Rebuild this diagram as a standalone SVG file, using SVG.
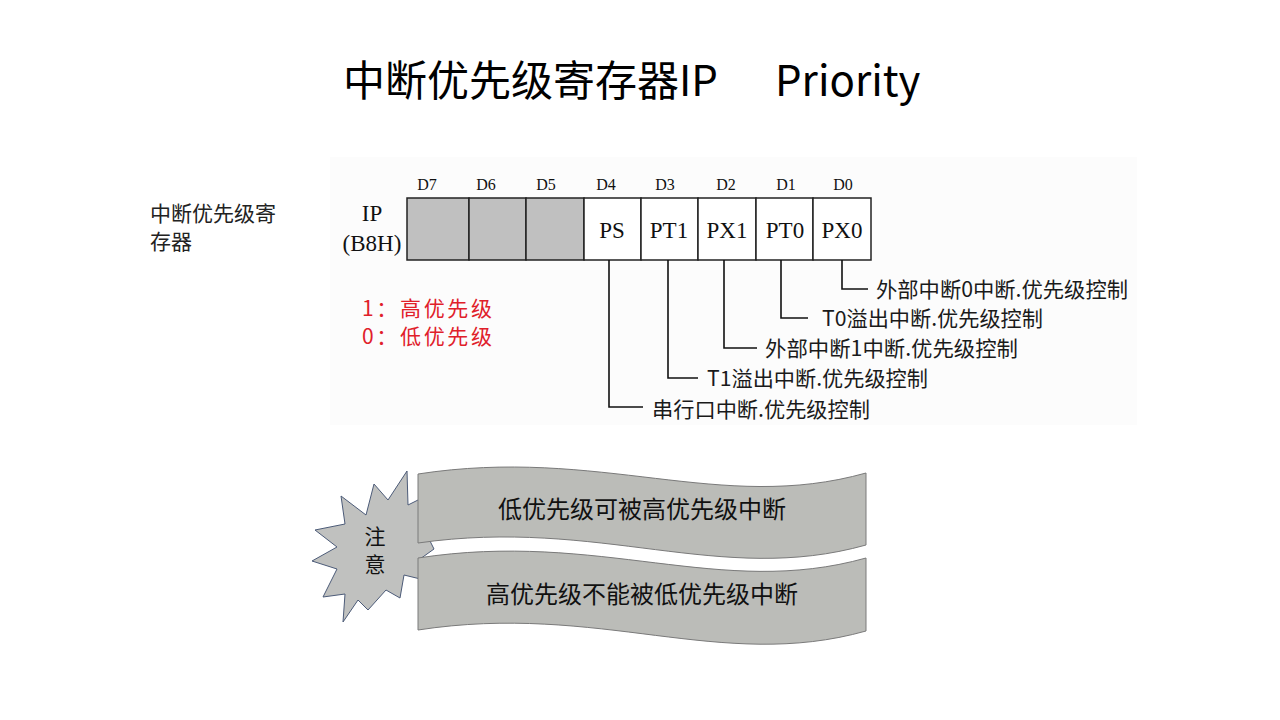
<svg xmlns="http://www.w3.org/2000/svg" width="1280" height="720" viewBox="0 0 1280 720">
<style>
.cjk{font-family:"Noto Sans CJK SC","Noto Sans",sans-serif;}
.ser{font-family:"Liberation Serif","Noto Sans CJK SC",serif;fill:#111;}
.cell{stroke:#222;stroke-width:1.5;}
.gray{fill:#c0c0c0;}
.white{fill:#fff;}
.lead{fill:none;stroke:#111;stroke-width:1.6;}
.lbl{font-family:"Noto Sans CJK SC","Liberation Serif",sans-serif;font-size:21px;fill:#1a1a1a;}
.rib{fill:#bbbcb8;stroke:#7a7a7a;stroke-width:1;}
.red{fill:#e0202a;}
</style>
<rect width="1280" height="720" fill="#fff"/>

<g id="title">
<text class="cjk" x="343" y="96" font-size="42" fill="#000">中断优先级寄存器IP<tspan x="775">Priority</tspan></text>
</g>

<g id="side-label">
<text class="cjk" x="150" y="221" font-size="21" fill="#222">中断优先级寄</text>
<text class="cjk" x="150" y="249" font-size="21" fill="#222">存器</text>
</g>

<rect x="330" y="157" width="807" height="268" fill="#fcfcfc"/>

<g id="register">
<text class="ser" x="372" y="221" font-size="23" text-anchor="middle">IP</text>
<text class="ser" x="372" y="251" font-size="23" text-anchor="middle">(B8H)</text>
<g font-size="16" text-anchor="middle" class="ser">
<text class="ser" x="427" y="190">D7</text>
<text class="ser" x="486" y="190">D6</text>
<text class="ser" x="546" y="190">D5</text>
<text class="ser" x="606" y="190">D4</text>
<text class="ser" x="665" y="190">D3</text>
<text class="ser" x="726" y="190">D2</text>
<text class="ser" x="786" y="190">D1</text>
<text class="ser" x="843" y="190">D0</text>
</g>
<rect class="cell gray" x="407" y="198" width="62" height="62"/>
<rect class="cell gray" x="469" y="198" width="57" height="62"/>
<rect class="cell gray" x="526" y="198" width="58" height="62"/>
<rect class="cell white" x="584" y="198" width="57" height="62"/>
<rect class="cell white" x="641" y="198" width="57" height="62"/>
<rect class="cell white" x="698" y="198" width="58" height="62"/>
<rect class="cell white" x="756" y="198" width="57" height="62"/>
<rect class="cell white" x="813" y="198" width="58" height="62"/>
<g font-size="23" text-anchor="middle">
<text class="ser" x="612" y="238">PS</text>
<text class="ser" x="669" y="238">PT1</text>
<text class="ser" x="727" y="238">PX1</text>
<text class="ser" x="785" y="238">PT0</text>
<text class="ser" x="842" y="238">PX0</text>
</g>
</g>

<g id="connectors">
<polyline class="lead" points="609,260 609,407 643,407"/>
<polyline class="lead" points="668,260 668,378 698,378"/>
<polyline class="lead" points="724,260 724,348 757,348"/>
<polyline class="lead" points="781,260 781,318 808,318"/>
<polyline class="lead" points="842,260 842,289 868,289"/>
</g>

<g id="bit-labels">
<text class="lbl" x="876" y="297" textLength="252" lengthAdjust="spacingAndGlyphs">外部中断0中断.优先级控制</text>
<text class="lbl" x="822" y="326" textLength="221" lengthAdjust="spacingAndGlyphs">T0溢出中断.优先级控制</text>
<text class="lbl" x="765" y="356" textLength="253" lengthAdjust="spacingAndGlyphs">外部中断1中断.优先级控制</text>
<text class="lbl" x="707" y="386" textLength="221" lengthAdjust="spacingAndGlyphs">T1溢出中断.优先级控制</text>
<text class="lbl" x="652" y="417" textLength="218" lengthAdjust="spacingAndGlyphs">串行口中断.优先级控制</text>
</g>

<g id="legend">
<text class="cjk red" x="362" y="316" font-size="21" textLength="130" lengthAdjust="spacing">1：高优先级</text>
<text class="cjk red" x="362" y="344" font-size="21" textLength="130" lengthAdjust="spacing">0：低优先级</text>
</g>

<g id="note-star">
<polygon points="407,471 408,505 428,495 420,515 452,519 426,533 434,549 420,559 445,585 404,575 400,598 386,590 368,610 358,600 343,622 345,594 323,597 337,569 312,561 337,547 315,530 345,524 341,496 366,515 374,484 388,500" fill="#c0c1bf" stroke="#4c5b78" stroke-width="1"/>
<text class="cjk" x="375" y="544" font-size="21" text-anchor="middle" fill="#111">注</text>
<text class="cjk" x="375" y="572" font-size="21" text-anchor="middle" fill="#111">意</text>
</g>

<g id="ribbon-1">
<path class="rib" d="M418,474 C600,446 720,514 866,473 L866,545 C720,586 600,517 418,543 Z"/>
<text class="cjk" x="642" y="518" font-size="24" text-anchor="middle" fill="#111">低优先级可被高优先级中断</text>
</g>

<g id="ribbon-2">
<path class="rib" d="M418,558 C600,530 720,599 866,558 L866,631 C720,672 600,602 418,630 Z"/>
<text class="cjk" x="642" y="603" font-size="24" text-anchor="middle" fill="#111">高优先级不能被低优先级中断</text>
</g>
</svg>
